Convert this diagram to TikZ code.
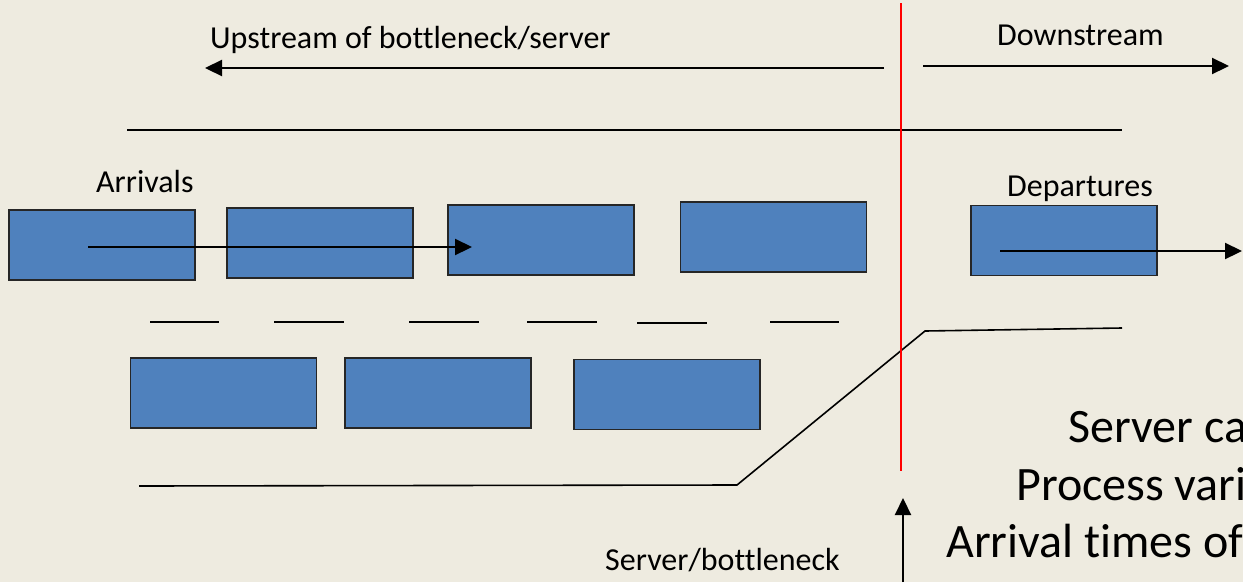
\documentclass[tikz,border=0pt]{standalone}
\usepackage{fontspec}
\setmainfont{Carlito}[Ligatures={NoCommon}]
\usetikzlibrary{arrows.meta}
\definecolor{paper}{HTML}{EEEBE0}
\definecolor{carblue}{HTML}{4F81BD}
\begin{document}
\begin{tikzpicture}[x=1pt,y=-1pt,
  car/.style={draw=black!85, line width=1.8pt, fill=carblue,
    minimum width=186pt, minimum height=70pt, inner sep=0pt, outer sep=0pt},
  edge/.style={line width=1.6pt},
  flow/.style={line width=2.2pt, -{Triangle[length=17pt,width=16pt]}},
  small/.style={font=\fontsize{32}{38}\selectfont, inner sep=0pt, anchor=base west},
  big/.style={font=\fontsize{48}{58}\selectfont, inner sep=0pt, anchor=base west}]
\fill[paper] (0,0) rectangle (1243,582);
\useasboundingbox (0,0) rectangle (1243,582);

% headings
\node[small] (up) at (210,48) {Upstream of bottleneck/server};
\node[small] (down) at (997,45) {Downstream};
\coordinate (upS) at (884,68);  \coordinate (upE) at (205,68);
\coordinate (dnS) at (923,66);  \coordinate (dnE) at (1229,66);
\draw[flow] (upS) -- (upE);
\draw[flow] (dnS) -- (dnE);

% lane edges
\coordinate (topL) at (127,130); \coordinate (topR) at (1122,130);
\draw[edge] (topL) -- (topR);
\foreach \a/\b/\y in {150/219/322, 274/344/322, 409/479/322, 527/597/322, 637/707/323, 770/839/322}
  \draw[edge] (\a,\y) -- (\b,\y);
\coordinate (botL) at (139,486); \coordinate (k1) at (737,485);
\coordinate (k2) at (925,331);   \coordinate (botR) at (1122,328);
\draw[edge] (botL) -- (k1) -- (k2) -- (botR);

% vehicles, upper lane
\node[car] (c1) at (102,245) {};
\node[car] (c2) at (320,243) {};
\node[car] (c3) at (541,240) {};
\node[car] (c4) at (773.5,237) {};
\node[car] (c5) at (1064,240.5) {};
% vehicles, lower lane
\node[car] (c6) at (223.5,393) {};
\node[car] (c7) at (438,393) {};
\node[car] (c8) at (667,394.5) {};

% arrivals and departures
\node[small] (arr) at (96,192) {Arrivals};
\node[small] (dep) at (1007,196) {Departures};
\coordinate (aS) at (88,247);   \coordinate (aE) at (472,247);
\coordinate (dS) at (1000,251); \coordinate (dE) at (1242,251);
\draw[flow] (aS) -- (aE);
\draw[flow] (dS) -- (dE);

% bottleneck
\coordinate (rTop) at (901,3); \coordinate (rBot) at (901,471);
\draw[red, line width=1.5pt] (rTop) -- (rBot);
\node[small] (srv) at (605,570) {Server/bottleneck};
\coordinate (pS) at (903,582); \coordinate (pE) at (903,498);
\draw[flow] (pS) -- (pE);

% factors
\node[big] (f1) at (1068,442) {Server ca};
\node[big] (f2) at (1016,500) {Process vari};
\node[big] (f3) at (946,557) {Arrival times of};
\end{tikzpicture}
\end{document}
